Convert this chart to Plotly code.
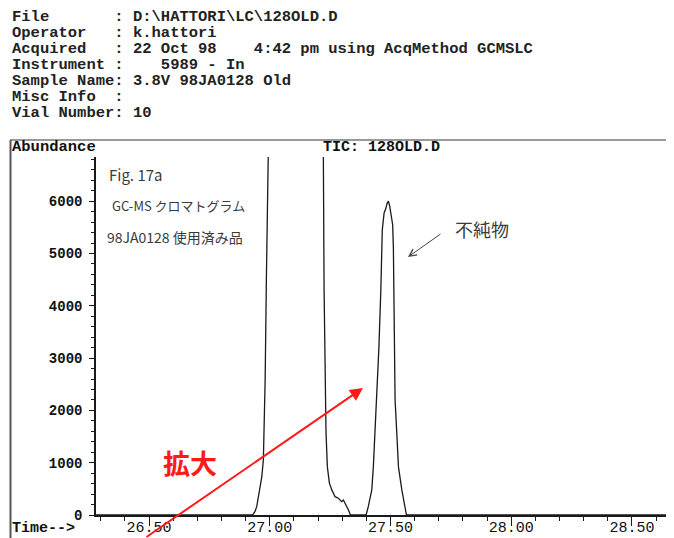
import plotly.graph_objects as go

# ---------------- data ----------------
time_min = [
    26.280, 26.926, 26.932, 26.939, 26.946, 26.953, 26.960, 26.967, 26.9735,
    26.978, 26.981, 26.986, 26.9917, 26.998, 27.020, 27.100, 27.190, 27.215,
    27.222, 27.225, 27.229, 27.233, 27.2386, 27.247, 27.257, 27.2705, 27.284,
    27.298, 27.305, 27.316, 27.326, 27.334,
    27.399, 27.408, 27.4225, 27.429, 27.436, 27.443, 27.452, 27.460, 27.464,
    27.466, 27.4735, 27.480, 27.486, 27.4914, 27.497, 27.503, 27.509, 27.512,
    27.5135, 27.516, 27.519, 27.526, 27.533, 27.547, 27.556, 27.563, 27.566,
    28.641,
]
abundance = [
    0, 0, 20, 70, 160, 330, 520, 730, 1050,
    1950, 2600, 4500, 6850, 9500, 15000, 18000, 15000, 9500,
    6850, 4300, 2200, 1570, 920, 610, 480, 350, 320,
    255, 287, 190, 95, 0,
    0, 160, 480, 920, 1570, 2200, 3200, 4300, 5000,
    5450, 5775, 5850, 5960, 6000, 5900, 5750, 5550, 5100,
    4400, 3300, 2200, 1570, 920, 480, 230, 40, 0,
    0,
]

header_lines = [
    "File       : D:\\HATTORI\\LC\\128OLD.D",
    "Operator   : k.hattori",
    "Acquired   : 22 Oct 98    4:42 pm using AcqMethod GCMSLC",
    "Instrument :    5989 - In",
    "Sample Name: 3.8V 98JA0128 Old",
    "Misc Info  :",
    "Vial Number: 10",
]
y_title = "Abundance"
plot_title = "TIC: 128OLD.D"
x_title = "Time-->"
notes = ["Fig. 17a", "GC-MS クロマトグラム", "98JA0128 使用済み品"]
impurity_note = "不純物"
zoom_note = "拡大"

x_range = [26.2804, 28.641]
y_range = [0, 6845]

# ---------------- layout helpers ----------------
# The page body has an 8px margin, so the figure is made 8px smaller and
# every page position is converted to figure position.
OFF = 8
PAGE_W, PAGE_H = 674, 538
W, H = PAGE_W - OFF, PAGE_H - OFF
PLOT_L, PLOT_R, PLOT_T, PLOT_B = 96, 666, 157, 515   # page pixels
L, T = PLOT_L - OFF, PLOT_T - OFF
R, B = W - (PLOT_R - OFF), H - (PLOT_B - OFF)
PW, PH = PLOT_R - PLOT_L, PLOT_B - PLOT_T


def px(x):
    return (x - PLOT_L) / PW


def py(y):
    return (PLOT_B - y) / PH


MONO = "Liberation Mono, Courier New, monospace"
CJK = "Noto Sans CJK JP, Noto Sans, sans-serif"
INK = "#1a1a1a"
PEN = "#3a3a3a"
RED = "#ff1a1a"

fig = go.Figure()
fig.add_trace(go.Scatter(
    x=time_min, y=abundance, mode="lines",
    line=dict(color=INK, width=1.3),
    hoverinfo="skip", showlegend=False,
))

ann = []
for i, line in enumerate(header_lines):
    ann.append(dict(x=px(10), y=py(17 + 16 * i), xref="paper", yref="paper",
                    text=line.replace(" ", "&nbsp;"), showarrow=False,
                    xanchor="left", yanchor="middle",
                    font=dict(family=MONO, size=15.5, color="#222", weight="bold")))

ann.append(dict(x=px(10), y=py(147), xref="paper", yref="paper",
                text=y_title, showarrow=False, xanchor="left", yanchor="middle",
                font=dict(family=MONO, size=15.5, color="#111", weight="bold")))
ann.append(dict(x=px(321), y=py(147), xref="paper", yref="paper",
                text=plot_title.replace(" ", "&nbsp;"), showarrow=False,
                xanchor="left", yanchor="middle",
                font=dict(family=MONO, size=15, color="#111", weight="bold")))
ann.append(dict(x=px(10), y=py(528), xref="paper", yref="paper",
                text=x_title, showarrow=False, xanchor="left", yanchor="middle",
                font=dict(family=MONO, size=15, color="#111", weight="bold")))

# handwritten notes
ann.append(dict(x=px(107), y=py(174), xref="paper", yref="paper", text=notes[0],
                showarrow=False, xanchor="left", yanchor="middle",
                font=dict(family=CJK, size=15, color=PEN)))
ann.append(dict(x=px(110), y=py(205), xref="paper", yref="paper", text=notes[1],
                showarrow=False, xanchor="left", yanchor="middle",
                font=dict(family=CJK, size=13, color=PEN)))
ann.append(dict(x=px(105), y=py(237), xref="paper", yref="paper", text=notes[2],
                showarrow=False, xanchor="left", yanchor="middle",
                font=dict(family=CJK, size=14, color=PEN)))
ann.append(dict(x=px(482), y=py(229), xref="paper", yref="paper", text=impurity_note,
                showarrow=False, xanchor="center", yanchor="middle",
                font=dict(family=CJK, size=18, color=PEN)))
# hand-drawn arrow toward the impurity peak
ann.append(dict(x=px(408), y=py(257), xref="paper", yref="paper", text="",
                showarrow=True, ax=34, ay=-24, arrowhead=5, arrowsize=1.4,
                arrowwidth=1, arrowcolor="#444", standoff=0, startstandoff=0))

# red "zoom" note and arrow
ann.append(dict(x=px(190), y=py(462), xref="paper", yref="paper",
                text="<b>" + zoom_note + "</b>", showarrow=False,
                xanchor="center", yanchor="middle",
                font=dict(family=CJK, size=27, color=RED)))
ann.append(dict(x=px(363), y=py(388), xref="paper", yref="paper", text="",
                showarrow=True, ax=-218, ay=157, arrowhead=2, arrowsize=1.3,
                arrowwidth=2, arrowcolor=RED, standoff=0, startstandoff=0))

shapes = [
    dict(type="line", xref="paper", yref="paper", x0=px(10), x1=px(674),
         y0=py(140), y1=py(140), line=dict(color="#777", width=1.5), layer="above"),
    dict(type="line", xref="paper", yref="paper", x0=px(10.5), x1=px(10.5),
         y0=py(140), y1=py(540), line=dict(color="#555", width=2), layer="above"),
]

fig.update_layout(
    width=W, height=H,
    margin=dict(l=L, r=R, t=T, b=B, pad=0, autoexpand=False),
    paper_bgcolor="white", plot_bgcolor="white",
    showlegend=False, hovermode=False,
    annotations=ann, shapes=shapes,
)
fig.update_xaxes(
    range=x_range, showgrid=False, zeroline=False, automargin=False,
    showline=True, linecolor=INK, linewidth=1.5,
    tickmode="linear", tick0=26.5, dtick=0.5, tickformat=".2f",
    ticks="outside", ticklen=9, tickwidth=1.2, tickcolor=INK,
    ticklabelstandoff=-12,
    tickfont=dict(family=MONO, size=15, color="#111"),
    minor=dict(tickmode="linear", tick0=26.5, dtick=0.1, ticks="outside",
               ticklen=4, tickwidth=1, tickcolor=INK, showgrid=False),
)
fig.update_yaxes(
    range=y_range, showgrid=False, zeroline=False, automargin=False,
    showline=True, linecolor=INK, linewidth=1.5,
    tickmode="linear", tick0=0, dtick=1000,
    ticks="outside", ticklen=5, tickwidth=1.2, tickcolor=INK,
    ticklabelstandoff=4,
    tickfont=dict(family=MONO, size=14, color="#111", weight="bold"),
    minor=dict(tickmode="linear", tick0=0, dtick=200, ticks="outside",
               ticklen=3, tickwidth=1, tickcolor=INK, showgrid=False),
)

fig.write_html("out.html")
